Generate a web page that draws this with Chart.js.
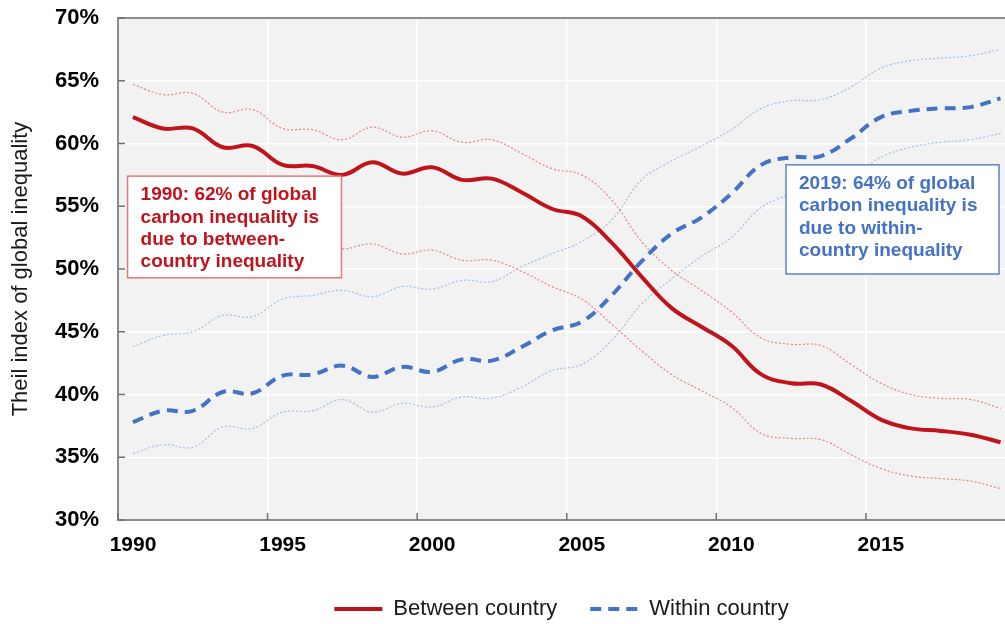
<!DOCTYPE html>
<html>
<head>
<meta charset="utf-8">
<title>Global carbon inequality: between vs within country</title>
<script src="https://cdn.jsdelivr.net/npm/chart.js@4.4.1/dist/chart.umd.min.js"></script>
<style>
  html, body { margin: 0; padding: 0; background: #fff; }
  #wrap { width: 1005px; height: 624px; }
</style>
</head>
<body>
<div id="wrap"><canvas id="myChart" width="1005" height="624"></canvas></div>
<script>
  // values (Theil index share, %)
  const years = [1990, 1991, 1992, 1993, 1994, 1995, 1996, 1997, 1998, 1999,
                 2000, 2001, 2002, 2003, 2004, 2005, 2006, 2007, 2008, 2009,
                 2010, 2011, 2012, 2013, 2014, 2015, 2016, 2017, 2018, 2019];

  const betweenCountry = [62.1, 61.2, 61.2, 59.7, 59.8, 58.3, 58.2, 57.5, 58.5, 57.6,
                          58.1, 57.1, 57.2, 56.1, 54.8, 54.2, 52.1, 49.4, 46.9, 45.4,
                          43.9, 41.6, 40.9, 40.8, 39.5, 38.0, 37.3, 37.1, 36.8, 36.2];
  const betweenHigh = [64.7, 63.9, 64.0, 62.5, 62.7, 61.2, 61.1, 60.3, 61.3, 60.5,
                       61.0, 60.1, 60.3, 59.2, 58.0, 57.5, 55.5, 52.2, 49.9, 48.3,
                       46.6, 44.5, 44.0, 43.9, 42.4, 40.9, 40.0, 39.7, 39.6, 38.9];
  const betweenLow = [55.9, 55.0, 55.0, 53.5, 53.6, 52.1, 52.0, 51.6, 52.0, 51.2,
                      51.5, 50.7, 50.7, 49.8, 48.6, 47.6, 45.6, 43.5, 41.6, 40.3,
                      39.0, 36.9, 36.5, 36.4, 35.2, 34.1, 33.5, 33.3, 33.1, 32.5];

  const withinCountry = [37.8, 38.7, 38.7, 40.2, 40.1, 41.5, 41.6, 42.3, 41.4, 42.2,
                         41.8, 42.8, 42.7, 43.8, 45.1, 45.8, 47.9, 50.6, 52.8, 54.1,
                         56.0, 58.3, 58.9, 59.0, 60.4, 62.1, 62.6, 62.8, 62.9, 63.6];
  const withinHigh = [43.8, 44.7, 45.0, 46.3, 46.2, 47.6, 47.9, 48.3, 47.8, 48.6,
                      48.4, 49.1, 49.0, 50.2, 51.2, 52.2, 53.9, 57.1, 58.6, 59.8,
                      61.1, 62.8, 63.4, 63.5, 64.5, 66.0, 66.6, 66.8, 67.0, 67.5];
  const withinLow = [35.3, 36.0, 35.8, 37.4, 37.3, 38.6, 38.7, 39.6, 38.6, 39.3,
                     39.0, 39.8, 39.7, 40.6, 41.9, 42.4, 44.3, 47.2, 49.2, 51.0,
                     52.5, 54.9, 55.9, 56.0, 57.3, 58.9, 59.7, 60.1, 60.3, 60.8];

  const yearTicks = [1990, 1995, 2000, 2005, 2010, 2015];
  const noteBetween = ['1990: 62% of global', 'carbon inequality is', 'due to between-', 'country inequality'];
  const noteWithin = ['2019: 64% of global', 'carbon inequality is', 'due to within-', 'country inequality'];

  const FONT = "'Liberation Sans', Arial, sans-serif";
  const RED = '#c0141c';
  const BLUE = '#4472c4';

  // yearly values sit in the middle of each year's band
  const pts = vals => years.map((yr, i) => ({ x: yr + 0.5, y: vals[i] }));

  const band = (label, vals, color) => ({
    label: label,
    data: pts(vals),
    borderColor: color,
    borderWidth: 1.2,
    borderDash: [2, 2],
    pointRadius: 0,
    tension: 0.4,
    order: 3
  });

  const plotFrame = {
    id: 'plotFrame',
    beforeDraw(chart) {
      const { ctx, chartArea: a } = chart;
      ctx.save();
      ctx.fillStyle = '#f2f2f2';
      ctx.fillRect(a.left, a.top, a.right - a.left, a.bottom - a.top);
      ctx.restore();
    },
    afterDraw(chart) {
      const { ctx, chartArea: a, scales } = chart;
      ctx.save();
      // top frame line
      ctx.strokeStyle = '#8c8c8c';
      ctx.lineWidth = 2;
      ctx.beginPath();
      ctx.moveTo(a.left, a.top);
      ctx.lineTo(a.right, a.top);
      ctx.stroke();
      // tick marks pointing inside the plot
      ctx.strokeStyle = '#6f6f6f';
      ctx.lineWidth = 1.5;
      scales.y.ticks.forEach(t => {
        const py = scales.y.getPixelForValue(t.value);
        ctx.beginPath();
        ctx.moveTo(a.left, py);
        ctx.lineTo(a.left + 7, py);
        ctx.stroke();
      });
      scales.x.ticks.forEach(t => {
        const px = scales.x.getPixelForValue(t.value);
        ctx.beginPath();
        ctx.moveTo(px, a.bottom);
        ctx.lineTo(px, a.bottom - 7);
        ctx.stroke();
      });

      // text boxes, anchored to the axes
      const notes = [
        { lines: noteBetween, x0: 1990.32, x1: 1997.47, y0: 57.4, y1: 49.3, text: RED, edge: '#e07a7a' },
        { lines: noteWithin, x0: 2012.33, x1: 2019.45, y0: 58.3, y1: 49.6, text: BLUE, edge: '#5b82c8' }
      ];
      notes.forEach(n => {
        const l = scales.x.getPixelForValue(n.x0);
        const r = scales.x.getPixelForValue(n.x1);
        const t = scales.y.getPixelForValue(n.y0);
        const b = scales.y.getPixelForValue(n.y1);
        ctx.fillStyle = '#ffffff';
        ctx.fillRect(l, t, r - l, b - t);
        ctx.strokeStyle = n.edge;
        ctx.lineWidth = 1.5;
        ctx.strokeRect(l, t, r - l, b - t);
        ctx.fillStyle = n.text;
        ctx.font = 'bold 19px ' + FONT;
        ctx.textAlign = 'left';
        ctx.textBaseline = 'middle';
        n.lines.forEach((s, i) => ctx.fillText(s, l + 13, t + 19 + i * 22.3));
      });
      ctx.restore();
    }
  };

  const ctx = document.getElementById('myChart');
  new Chart(ctx, {
    type: 'line',
    data: {
      datasets: [
        {
          label: 'Between country',
          data: pts(betweenCountry),
          borderColor: RED,
          backgroundColor: RED,
          borderWidth: 4,
          pointRadius: 0,
          tension: 0.4,
          order: 2
        },
        {
          label: 'Within country',
          data: pts(withinCountry),
          borderColor: BLUE,
          backgroundColor: BLUE,
          borderWidth: 4,
          borderDash: [11, 7],
          pointRadius: 0,
          tension: 0.4,
          order: 1
        },
        band('Between high', betweenHigh, 'rgba(236,96,96,0.75)'),
        band('Between low', betweenLow, 'rgba(236,96,96,0.75)'),
        band('Within high', withinHigh, 'rgba(150,178,222,0.8)'),
        band('Within low', withinLow, 'rgba(150,178,222,0.8)')
      ]
    },
    options: {
      responsive: false,
      animation: false,
      layout: { padding: { top: 18, right: 0, left: 0, bottom: -6 } },
      plugins: {
        tooltip: { enabled: false },
        legend: {
          position: 'bottom',
          fullSize: false,
          labels: {
            filter: item => item.datasetIndex < 2,
            sort: (a, b) => a.datasetIndex - b.datasetIndex,
            generateLabels(chart) {
              const items = Chart.defaults.plugins.legend.labels.generateLabels(chart);
              items.forEach(item => {
                const ds = chart.data.datasets[item.datasetIndex];
                item.lineDash = ds.borderDash || [];
                item.lineWidth = ds.borderWidth;
                item.strokeStyle = ds.borderColor;
              });
              return items;
            },
            usePointStyle: true,
            pointStyle: 'line',
            pointStyleWidth: 48,
            boxHeight: 22,
            padding: 33,
            color: '#1a1a1a',
            font: { family: FONT, size: 22 }
          }
        }
      },
      scales: {
        x: {
          type: 'linear',
          min: 1990,
          max: 2019.65,
          afterBuildTicks(scale) { scale.ticks = yearTicks.map(v => ({ value: v })); },
          afterFit(scale) { scale.height = 45; },
          ticks: {
            callback: v => String(v),
            labelOffset: 15,
            padding: 13,
            maxRotation: 0,
            autoSkip: false,
            color: '#000',
            font: { family: FONT, size: 21, weight: 'bold' }
          },
          grid: { color: '#ffffff', lineWidth: 1.5, drawTicks: false },
          border: { color: '#8c8c8c', width: 2 }
        },
        y: {
          min: 30,
          max: 70,
          afterFit(scale) {
            scale.width = 118;
            scale.paddingTop = 0;
            scale.paddingBottom = 0;
          },
          ticks: {
            stepSize: 5,
            callback: v => v + '%',
            padding: 19,
            color: '#000',
            font: { family: FONT, size: 22, weight: 'bold' }
          },
          grid: { color: '#ffffff', lineWidth: 1.5, drawTicks: false },
          border: { color: '#8c8c8c', width: 2 },
          title: {
            display: true,
            text: 'Theil index of global inequality',
            color: '#1a1a1a',
            padding: { top: 8, bottom: 0 },
            font: { family: FONT, size: 22 }
          }
        }
      }
    },
    plugins: [plotFrame]
  });
</script>
</body>
</html>
